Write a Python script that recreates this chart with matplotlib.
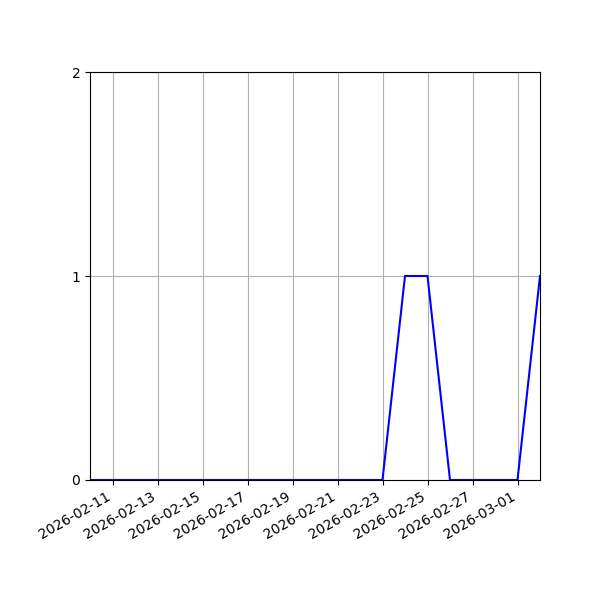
import matplotlib
matplotlib.use("Agg")
import matplotlib.pyplot as plt
import matplotlib.dates as mdates
import pandas as pd

dates = pd.date_range("2026-02-10", "2026-03-02", freq="D")
values = [0, 0, 0, 0, 0, 0, 0, 0, 0, 0, 0, 0, 0, 0, 1, 1, 0, 0, 0, 0, 1]
yticks = [0, 1, 2]

fig, ax = plt.subplots(figsize=(6, 6), dpi=100)
ax.plot(dates, values, color="blue")
ax.set_xlim(dates[0], dates[-1])
ax.set_ylim(0, 2)
ax.set_yticks(yticks)
ax.xaxis.set_major_locator(mdates.DayLocator(bymonthday=[1, 11, 13, 15, 17, 19, 21, 23, 25, 27]))
ax.xaxis.set_major_formatter(mdates.DateFormatter("%Y-%m-%d"))
ax.grid(True)
fig.autofmt_xdate()
fig.subplots_adjust(left=0.15, right=0.9, top=0.88, bottom=0.2)
fig.savefig("out.png")
